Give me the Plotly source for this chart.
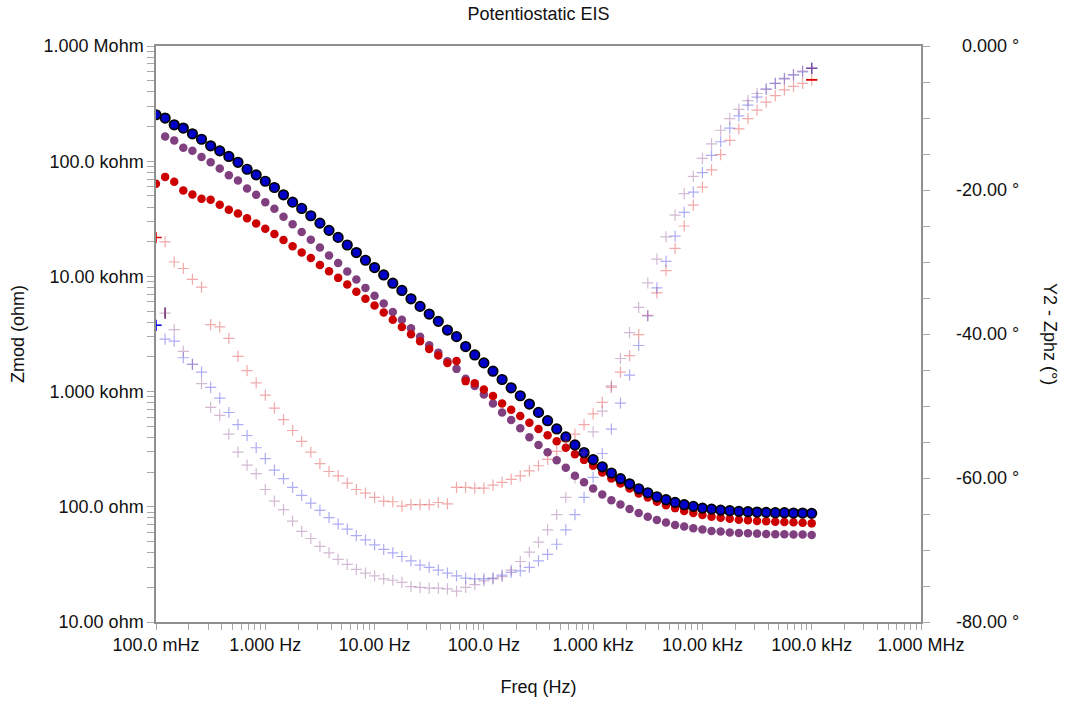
import plotly.graph_objects as go

# ---------------- data ----------------
freq_hz = [0.1, 0.1212, 0.1468, 0.1778, 0.2154, 0.2610, 0.3162, 0.3831, 0.4642, 0.5623, 0.6813, 0.8254,
           1.0, 1.212, 1.468, 1.778, 2.154, 2.610, 3.162, 3.831, 4.642, 5.623, 6.813, 8.254,
           10.0, 12.12, 14.68, 17.78, 21.54, 26.10, 31.62, 38.31, 46.42, 56.23, 68.13, 82.54,
           100.0, 121.2, 146.8, 177.8, 215.4, 261.0, 316.2, 383.1, 464.2, 562.3, 681.3, 825.4,
           1000, 1212, 1468, 1778, 2154, 2610, 3162, 3831, 4642, 5623, 6813, 8254,
           10000, 12120, 14680, 17780, 21540, 26100, 31620, 38310, 46420, 56230, 68130, 82540,
           100000]

zmod_blue = [253000, 237000, 207000, 194000, 173000, 155000, 136000, 123000, 110000, 97800, 85100, 76100,
             67000, 59100, 51100, 44100, 38900, 33600, 29000, 25100, 21800, 18730, 16100, 13810,
             11940, 10300, 8730, 7550, 6390, 5490, 4710, 4070, 3420, 3000, 2460, 2080,
             1775, 1504, 1273, 1079, 920, 780, 660, 559, 474, 404, 344.5, 295.6,
             257, 222.3, 196.5, 175.4, 158.4, 143.4, 132.4, 122.3, 115.2, 109.2, 104.3, 100.8,
             97.4, 95.5, 93.6, 92.5, 91.3, 90.7, 90.0, 89.5, 88.9, 88.9, 88.2, 88.2,
             87.7]

zmod_red = [63600, 73100, 66200, 55700, 51400, 47200, 46300, 41900, 37900, 35200, 31900, 28850,
            25970, 23320, 20690, 18250, 16100, 14450, 12580, 11090, 9710, 8510, 7350, 6390,
            5600, 4870, 4210, 3640, 3140, 2735, 2346, 2053, 1775, 1847, 1233, 1184,
            1043, 914, 789, 696, 614, 537, 474, 417, 370, 326, 285.7, 255.5,
            226.7, 198.5, 176.1, 159.4, 144.3, 130.6, 120.6, 110.7, 103.4, 97.4, 91.8, 88.2,
            84.8, 82.1, 80.5, 78.9, 77.3, 76.3, 75.2, 74.8, 74.3, 73.7, 73.3, 72.8,
            71.8]

zmod_purple = [None, 164200, 151600, 131100, 123500, 109000, 97800, 86300, 75500, 68000, 57900, 51100,
               44100, 38700, 33000, 28300, 24270, 20850, 17780, 15160, 13090, 11030, 9400, 7950,
               6780, 5830, 4920, 4210, 3540, 3000, 2525, 2179, 1835, 1575, 1290, 1116,
               944, 789, 660, 567, 479.7, 400.9, 344.5, 297.4, 253.5, 217.9, 185.8, 163.6,
               144.3, 128.1, 114.1, 104.5, 95.9, 88.2, 82.1, 76.7, 72.9, 69.5, 67.3, 65.0,
               63.4, 61.6, 60.9, 59.7, 59.2, 58.9, 58.5, 58.0, 57.7, 57.7, 57.4, 57.4,
               56.9]

phase_red = [-26.6, -27.2, -30.0, -30.9, -32.4, -33.5, -38.7, -39.0, -40.6, -43.1, -45.1, -46.8,
             -48.5, -50.3, -51.9, -53.4, -54.9, -56.4, -58.0, -59.1, -59.7, -60.7, -61.6, -62.1,
             -62.7, -63.2, -63.3, -63.9, -63.7, -63.7, -63.7, -63.4, -63.6, -61.3, -61.3, -61.4,
             -61.4, -61.0, -60.6, -60.2, -59.7, -59.0, -58.3, -57.4, -56.3, -54.9, -53.9, -52.6,
             -51.1, -49.5, -47.4, -45.3, -43.0, -40.1, -37.4, -34.3, -31.2, -28.1, -25.0, -22.1,
             -19.6, -17.2, -15.1, -13.1, -11.5, -10.1, -8.9, -7.8, -6.9, -6.1, -5.6, -5.2,
             -4.7]

phase_blue = [-38.8, -40.7, -41.0, -43.3, -44.2, -45.3, -47.4, -48.9, -50.9, -52.6, -54.1, -55.8,
              -57.3, -58.9, -60.1, -61.3, -62.4, -63.5, -64.5, -65.5, -66.4, -67.1, -68.0, -68.6,
              -69.3, -69.9, -70.4, -70.9, -71.5, -72.1, -72.4, -72.8, -73.2, -73.6, -73.9, -74.0,
              -74.0, -73.9, -73.5, -73.1, -72.9, -72.4, -71.5, -70.6, -69.2, -67.2, -65.1, -62.7,
              -59.9, -56.6, -53.2, -49.6, -45.7, -41.6, -37.5, -33.6, -29.9, -26.4, -23.1, -20.3,
              -17.6, -15.2, -13.3, -11.4, -9.7, -8.2, -7.1, -6.0, -5.2, -4.5, -4.0, -3.6,
              -3.1]

phase_purple = [None, -37.1, -39.4, -42.4, -44.2, -46.9, -50.2, -51.3, -53.9, -56.4, -58.2, -59.4,
                -61.6, -63.2, -64.4, -66.0, -67.4, -68.4, -69.5, -70.4, -71.3, -72.0, -72.7, -73.2,
                -73.6, -74.0, -74.2, -74.5, -75.1, -75.2, -75.3, -75.3, -75.4, -75.7, -75.2, -74.8,
                -74.3, -74.0, -73.7, -72.8, -71.6, -70.3, -68.9, -67.2, -65.1, -62.7, -60.0, -56.5,
                -53.6, -50.7, -47.2, -43.4, -39.8, -36.3, -32.9, -29.6, -26.5, -23.5, -20.5, -18.1,
                -15.6, -13.6, -11.7, -10.1, -8.8, -7.6, -6.6, -6.0, -5.2, -4.6, -4.0, -3.5,
                -3.1]

x_decades = [0.1, 1, 10, 100, 1000, 10000, 100000, 1000000]
x_decade_labels = ["100.0 mHz", "1.000 Hz", "10.00 Hz", "100.0 Hz", "1.000 kHz",
                   "10.00 kHz", "100.0 kHz", "1.000 MHz"]
y_decades = [10, 100, 1000, 10000, 100000, 1000000]
y_decade_labels = ["10.00 ohm", "100.0 ohm", "1.000 kohm", "10.00 kohm", "100.0 kohm", "1.000 Mohm"]
phase_ticks = [0, -5, -10, -15, -20, -25, -30, -35, -40, -45, -50, -55, -60, -65, -70, -75, -80]
phase_labels = {0: "0.000 °", -20: "-20.00 °", -40: "-40.00 °", -60: "-60.00 °", -80: "-80.00 °"}
minor_mult = [2, 3, 4, 5, 6, 7, 8, 9]

# ---------------- figure ----------------
FONT = "Liberation Sans, Arial, sans-serif"
fig = go.Figure()

cross_style = dict(symbol="cross-thin", size=8)
fig.add_trace(go.Scatter(x=freq_hz, y=phase_red, mode="markers", yaxis="y2", name="Phase red",
                         marker=dict(**cross_style, line=dict(width=1.2, color="rgba(225,50,50,0.42)"))))
fig.add_trace(go.Scatter(x=freq_hz, y=phase_blue, mode="markers", yaxis="y2", name="Phase blue",
                         marker=dict(**cross_style, line=dict(width=1.2, color="rgba(40,40,230,0.38)"))))
fig.add_trace(go.Scatter(x=freq_hz, y=phase_purple, mode="markers", yaxis="y2", name="Phase purple",
                         marker=dict(**cross_style, line=dict(width=1.2, color="rgba(140,70,140,0.38)"))))

# solid end markers of the phase sweeps (as drawn in the reference)
fig.add_trace(go.Scatter(x=[freq_hz[0]], y=[phase_red[0]], mode="markers", yaxis="y2",
                         marker=dict(symbol="cross-thin", size=8, line=dict(width=1.5, color="#DD0000"))))
fig.add_trace(go.Scatter(x=[freq_hz[0]], y=[phase_blue[0]], mode="markers", yaxis="y2",
                         marker=dict(symbol="cross-thin", size=8, line=dict(width=1.5, color="#0000EE"))))
fig.add_trace(go.Scatter(x=[freq_hz[1]], y=[phase_purple[1]], mode="markers", yaxis="y2",
                         marker=dict(symbol="line-ns", size=8, line=dict(width=1.8, color="#804080"))))
fig.add_trace(go.Scatter(x=[freq_hz[-1]], y=[phase_red[-1]], mode="markers", yaxis="y2",
                         marker=dict(symbol="line-ew", size=8, line=dict(width=1.8, color="#DD0000"))))
fig.add_trace(go.Scatter(x=[freq_hz[-1]], y=[phase_purple[-1]], mode="markers", yaxis="y2",
                         marker=dict(symbol="cross-thin", size=8, line=dict(width=1.5, color="rgba(110,60,150,0.8)"))))

fig.add_trace(go.Scatter(x=freq_hz, y=zmod_purple, mode="markers", name="Zmod purple",
                         marker=dict(symbol="circle", size=8.5, color="#804080", line=dict(width=0))))
fig.add_trace(go.Scatter(x=freq_hz, y=zmod_red, mode="markers", name="Zmod red",
                         marker=dict(symbol="circle", size=8.5, color="#CC0000", line=dict(width=0))))
fig.add_trace(go.Scatter(x=freq_hz, y=zmod_blue, mode="markers", name="Zmod blue",
                         marker=dict(symbol="circle", size=9.5, color="#0000C8",
                                     line=dict(width=1.7, color="#000000"))))

x_tickvals, x_ticktext = [], []
for d, lab in zip(x_decades, x_decade_labels):
    x_tickvals.append(d)
    x_ticktext.append(lab)
    if d < 1000000:
        for m in minor_mult:
            x_tickvals.append(d * m)
            x_ticktext.append("")

y_tickvals, y_ticktext = [], []
for d, lab in zip(y_decades, y_decade_labels):
    y_tickvals.append(d)
    y_ticktext.append(lab)
    if d < 1000000:
        for m in minor_mult:
            y_tickvals.append(d * m)
            y_ticktext.append("")

axis_line = "#8f8f8f"
tick_col = "#a8a8a8"

fig.update_layout(
    width=1073, height=706,
    margin=dict(l=156, r=152, t=46, b=82),
    paper_bgcolor="white", plot_bgcolor="white",
    showlegend=False,
    font=dict(family=FONT, size=18, color="#111111"),
    title=dict(text="Potentiostatic EIS", x=0.5, xref="paper", y=1 - 14 / 706, yanchor="middle",
               font=dict(family=FONT, size=18, color="#111111")),
    xaxis=dict(type="log", range=[-1, 6], showgrid=False, zeroline=False,
               showline=True, linecolor=axis_line, linewidth=1.5, mirror=True,
               ticks="outside", ticklen=6, tickcolor=tick_col, tickwidth=1,
               tickvals=x_tickvals, ticktext=x_ticktext, tickfont=dict(size=18),
               title=dict(text="Freq (Hz)", standoff=26, font=dict(size=18))),
    yaxis=dict(type="log", range=[1, 6], showgrid=False, zeroline=False,
               showline=True, linecolor=axis_line, linewidth=1.5, mirror=True,
               ticks="outside", ticklen=7, tickcolor=tick_col, tickwidth=1,
               tickvals=y_tickvals, ticktext=y_ticktext, tickfont=dict(size=18),
               title=dict(text="Zmod (ohm)", standoff=14, font=dict(size=18))),
    yaxis2=dict(overlaying="y", side="right", range=[-80, 0], showgrid=False, zeroline=False,
                showline=False, ticks="outside", ticklen=8, tickcolor=tick_col, tickwidth=1,
                tickvals=phase_ticks, showticklabels=False),
)

for v, lab in phase_labels.items():
    fig.add_annotation(x=(1021 - 156) / 765, xref="paper", y=v, yref="y2", text=lab,
                       showarrow=False, xanchor="right", yanchor="middle",
                       font=dict(family=FONT, size=18, color="#111111"))

fig.add_annotation(x=(1050 - 156) / 765, xref="paper", y=0.5, yref="paper", text="Y2 - Zphz (°)",
                   textangle=90, showarrow=False, xanchor="center", yanchor="middle",
                   font=dict(family=FONT, size=18, color="#111111"))

fig.write_html("out.html")
